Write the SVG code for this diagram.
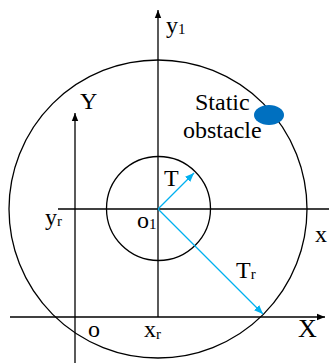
<svg xmlns="http://www.w3.org/2000/svg" width="329" height="363" viewBox="0 0 329 363">
<style>
.ln{stroke:#000;stroke-width:1.3;fill:none}
.bl{stroke:#00B0F0;stroke-width:1.3;fill:none}
.t{font-family:'Liberation Serif','DejaVu Serif',serif;font-size:24px;fill:#000}
.s{font-size:15px}
</style>
<defs>
<marker id="ak" viewBox="0 0 10 10" refX="10" refY="5" markerWidth="8" markerHeight="8" markerUnits="userSpaceOnUse" orient="auto"><path d="M0,1 L10,5 L0,9 Z" fill="#000"/></marker>
<marker id="ab" viewBox="0 0 10 10" refX="10" refY="5" markerWidth="9" markerHeight="9" markerUnits="userSpaceOnUse" orient="auto"><path d="M0,1 L10,5 L0,9 Z" fill="#00B0F0"/></marker>
</defs>
<g id="circles">
<circle id="outer" class="ln" cx="158" cy="209" r="149"/>
<circle id="inner" class="ln" cx="158.5" cy="208.5" r="52"/>
</g>
<g id="connectors">
<line class="ln" x1="158" y1="317" x2="158" y2="10" marker-end="url(#ak)"/>
<line class="ln" x1="75" y1="363" x2="75" y2="113" marker-end="url(#ak)"/>
<line class="ln" x1="10" y1="317" x2="325" y2="317" marker-end="url(#ak)"/>
<line class="ln" x1="58" y1="209" x2="329" y2="209"/>
<line class="bl" x1="158" y1="209" x2="194" y2="173" marker-end="url(#ab)"/>
<line class="bl" x1="158" y1="209" x2="263" y2="314" marker-end="url(#ab)"/>
</g>
<g id="obstacle" font-family="Liberation Serif, serif">
<ellipse cx="269" cy="115" rx="15" ry="10" fill="#0070C0"/>
<text class="t" x="195" y="110">Static</text>
<text class="t" x="183" y="138">obstacle</text>
</g>
<g id="labels" font-family="Liberation Serif, serif">
<text class="t" x="166" y="33">y<tspan class="s" dy="1">1</tspan></text>
<text class="t" x="80" y="109">Y</text>
<text class="t" x="164" y="186">T</text>
<text class="t" x="45" y="225">y<tspan class="s" dy="1">r</tspan></text>
<text class="t" x="137" y="228">o<tspan class="s" dy="1">1</tspan></text>
<text class="t" x="315" y="242">x</text>
<text class="t" x="236" y="278">T<tspan class="s" dy="1">r</tspan></text>
<text class="t" x="88" y="337">o</text>
<text class="t" x="144" y="337">x<tspan class="s" dy="2">r</tspan></text>
<text class="t" x="298" y="337" style="font-size:26px">X</text>
</g>
</svg>
